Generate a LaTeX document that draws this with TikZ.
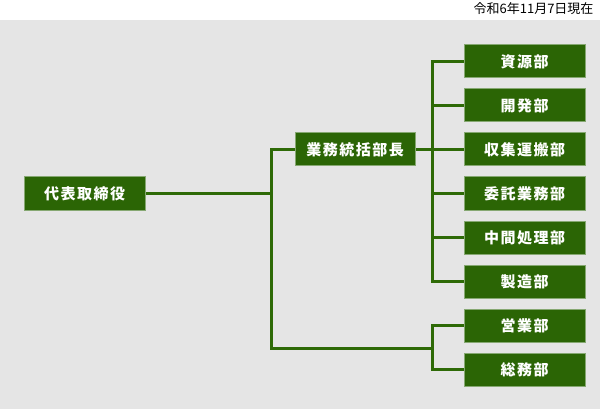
\documentclass[tikz,border=0pt]{standalone}
\usepackage{fontspec}
\usepackage{tikz}
\usetikzlibrary{backgrounds}
\newfontfamily\jp{Noto Sans CJK JP}
\newfontfamily\jpbox[LetterSpace=10]{Noto Sans CJK JP}
\definecolor{orggreen}{HTML}{2B6505}
\definecolor{orgedge}{HTML}{86A872}
\definecolor{orgline}{HTML}{2E6A07}
\definecolor{orggray}{HTML}{E5E5E5}

\begin{document}
\begin{tikzpicture}[x=1pt,y=-1pt,
    unit/.style={draw=orgedge,fill=orggreen,text=white,line width=1pt,
      minimum width=121pt,minimum height=33pt,inner sep=0pt,
      font=\jpbox\bfseries\fontsize{15}{15}\selectfont},
    link/.style={draw=orgline,line width=3pt,line join=miter}]
          \useasboundingbox (0,0) rectangle (600,409);
          \node[anchor=base east,font=\jp\fontsize{13}{13}\selectfont] (date) at (597,14) {令和6年11月7日現在};

          \node[unit] (ceo) at (84.5,193.5) {代表取締役};
          \node[unit,minimum width=120pt] (gm) at (355,149.5) {業務統括部長};

          \node[unit] (shigen) at (524.5,61.5) {資源部};
          \node[unit] (kaihatsu) at (524.5,105.5) {開発部};
          \node[unit] (shushu) at (524.5,149.5) {収集運搬部};
          \node[unit] (itaku) at (524.5,193.5) {委託業務部};
          \node[unit] (chukan) at (524.5,237.5) {中間処理部};
          \node[unit] (seizo) at (524.5,281.5) {製造部};

          \node[unit] (eigyo) at (524.5,325.5) {営業部};
          \node[unit] (somu) at (524.5,369.5) {総務部};

          \coordinate (trunk) at (271,348);
          \coordinate (fork) at (432.5,348);

          \begin{pgfonlayer}{background}
          \fill[orggray] (0,20) rectangle (600,409);
          \draw[link] (ceo.east) -- (ceo.east -| trunk);
          \draw[link] (gm.west) -| (trunk) -- (fork);
          \draw[link] (gm.east) -- (gm.east -| fork);
          \draw[link] (shigen.west) -| (fork |- seizo.west) -- (seizo.west);
          \foreach \d in {kaihatsu,shushu,itaku,chukan}
            \draw[link] (\d.west) -- (\d.west -| fork);
          \draw[link] (eigyo.west) -| (fork |- somu.west) -- (somu.west);
          \end{pgfonlayer}
         \end{tikzpicture}
\end{document}
